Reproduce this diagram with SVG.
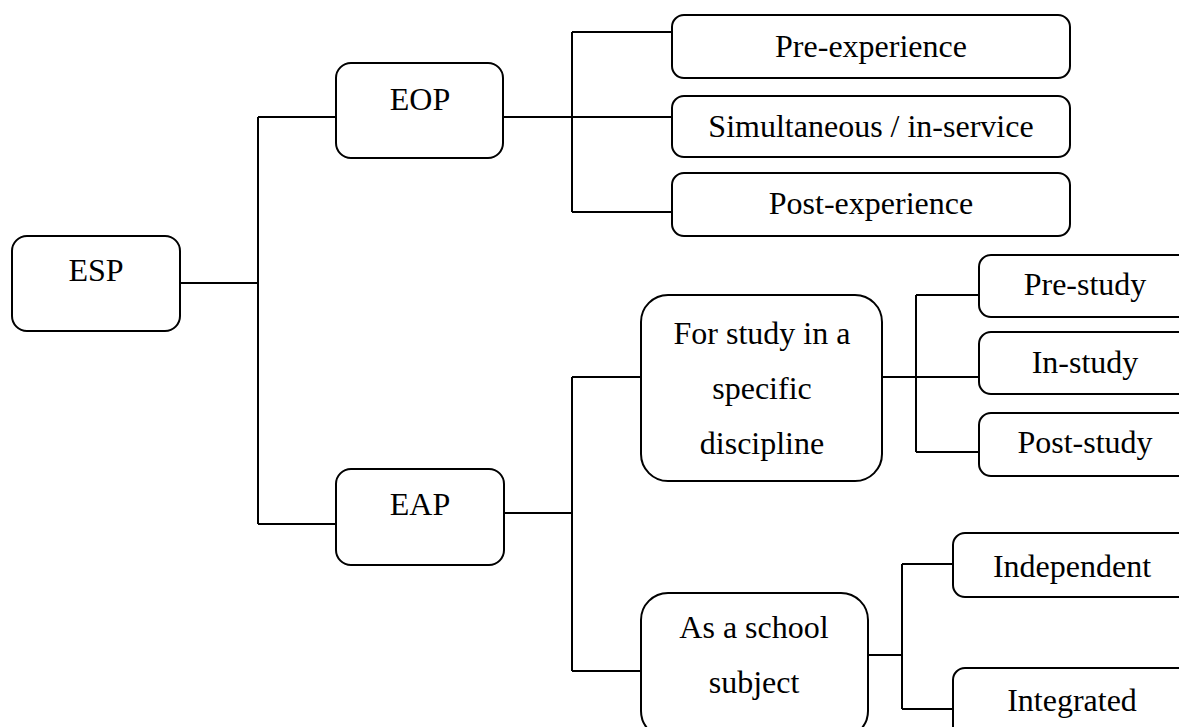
<svg xmlns="http://www.w3.org/2000/svg" width="1179" height="727" viewBox="0 0 1179 727">
<style>
.box{fill:#fff;stroke:#000;stroke-width:2}
.t{font-family:"Liberation Serif","Times New Roman",serif;font-size:32px;fill:#000;text-anchor:middle}
.c{fill:none;stroke:#000;stroke-width:2}
</style>
<rect width="1179" height="727" fill="#fff"/>
<g id="connectors">
<path class="c" d="M180 283H258M258 117V524M258 117H336M258 524H336"/>
<path class="c" d="M503 117H672M572 32V212M572 32H672M572 212H672"/>
<path class="c" d="M504 513H572M572 377V671M572 377H641M572 671H641"/>
<path class="c" d="M882 377H979M916 295V452M916 295H979M916 452H979"/>
<path class="c" d="M868 655H902M902 564V709M902 564H953M902 709H953"/>
</g>
<g id="esp"><rect class="box" x="12" y="236" width="168" height="95" rx="15"/><text class="t" x="96" y="281">ESP</text></g>
<g id="eop"><rect class="box" x="336" y="63" width="167" height="95" rx="15"/><text class="t" x="420" y="110">EOP</text></g>
<g id="eap"><rect class="box" x="336" y="469" width="168" height="96" rx="15"/><text class="t" x="420" y="515">EAP</text></g>
<g id="pre-experience"><rect class="box" x="672" y="15" width="398" height="63" rx="12"/><text class="t" x="871" y="57">Pre-experience</text></g>
<g id="simultaneous"><rect class="box" x="672" y="96" width="398" height="61" rx="12"/><text class="t" x="871" y="137">Simultaneous / in-service</text></g>
<g id="post-experience"><rect class="box" x="672" y="173" width="398" height="63" rx="12"/><text class="t" x="871" y="214">Post-experience</text></g>
<g id="for-study"><rect class="box" x="641" y="295" width="241" height="186" rx="27"/><text class="t" x="762" y="344">For study in a</text><text class="t" x="762" y="399">specific</text><text class="t" x="762" y="454">discipline</text></g>
<g id="school-subject"><rect class="box" x="641" y="593" width="227" height="145" rx="27"/><text class="t" x="754" y="638">As a school</text><text class="t" x="754" y="693">subject</text></g>
<g id="pre-study"><rect class="box" x="979" y="255" width="212" height="62" rx="12"/><text class="t" x="1085" y="295">Pre-study</text></g>
<g id="in-study"><rect class="box" x="979" y="332" width="212" height="62" rx="12"/><text class="t" x="1085" y="373">In-study</text></g>
<g id="post-study"><rect class="box" x="979" y="413" width="212" height="63" rx="12"/><text class="t" x="1085" y="453">Post-study</text></g>
<g id="independent"><rect class="box" x="953" y="533" width="238" height="64" rx="12"/><text class="t" x="1072" y="577">Independent</text></g>
<g id="integrated"><rect class="box" x="953" y="668" width="238" height="70" rx="12"/><text class="t" x="1072" y="711">Integrated</text></g>
</svg>
